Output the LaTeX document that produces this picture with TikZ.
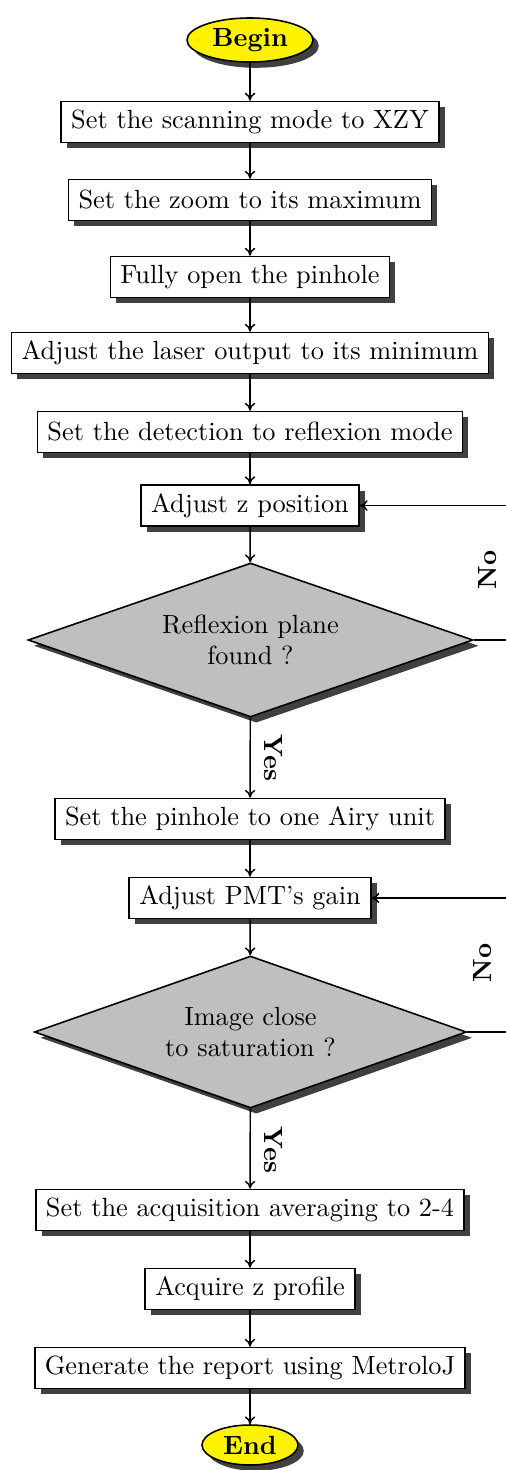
\documentclass[tikz,border=0pt]{standalone}
\usetikzlibrary{shapes.geometric,shadows,arrows.meta}
\begin{document}
\begin{tikzpicture}[x=0.38pt,y=-0.38pt,
  shad/.style={drop shadow={shadow xshift=2.2pt,shadow yshift=-2.2pt,fill=black!75,opacity=1}},
  stepbox/.style={rectangle,draw,line width=0.6pt,fill=white,shad,inner xsep=3.8pt,inner ysep=2pt,minimum height=15.6pt},
  term/.style={ellipse,draw,line width=0.6pt,fill=yellow,shad,font=\bfseries,inner sep=1pt},
  decide/.style={diamond,draw,line width=0.6pt,fill=black!25,shad,align=center,inner sep=0pt,aspect=2.89},
  conn/.style={line width=0.55pt,-{To[length=3pt,width=4pt]}},
  lab/.style={font=\bfseries}]
\useasboundingbox (0,0) rectangle (505,1470);
\node[term,minimum width=126*0.38pt,minimum height=44*0.38pt] (begin) at (250,40) {Begin};
\node[stepbox] (s1) at (250,122) {Set the scanning mode to XZY};
\node[stepbox] (s2) at (250,200) {Set the zoom to its maximum};
\node[stepbox] (s3) at (250,277) {Fully open the pinhole};
\node[stepbox] (s4) at (250,353) {Adjust the laser output to its minimum};
\node[stepbox] (s5) at (250,432) {Set the detection to reflexion mode};
\node[stepbox] (s6) at (250,505.5) {Adjust z position};
\node[decide,minimum width=445*0.38pt,minimum height=154*0.38pt] (d1) at (250.5,640) {Reflexion plane\\found ?};
\node[stepbox] (s7) at (250,819) {Set the pinhole to one Airy unit};
\node[stepbox] (s8) at (250,898) {Adjust PMT's gain};
\node[decide,minimum width=432*0.38pt,minimum height=152*0.38pt] (d2) at (250.5,1032) {Image close\\to saturation ?};
\node[stepbox] (s9) at (250,1210) {Set the acquisition averaging to 2-4};
\node[stepbox] (s10) at (250,1289) {Acquire z profile};
\node[stepbox] (s11) at (250,1368) {Generate the report using MetroloJ};
\node[term,minimum width=96*0.38pt,minimum height=40*0.38pt] (end) at (250,1445) {End};
\coordinate (c1a) at (530,640);
\coordinate (c1b) at (530,505.5);
\coordinate (c2a) at (530,1032);
\coordinate (c2b) at (530,898);
\draw[conn] (begin) -- (s1);
\draw[conn] (s1) -- (s2);
\draw[conn] (s2) -- (s3);
\draw[conn] (s3) -- (s4);
\draw[conn] (s4) -- (s5);
\draw[conn] (s5) -- (s6);
\draw[conn] (s6) -- (d1);
\draw[conn] (d1) -- (s7);
\draw[conn] (s7) -- (s8);
\draw[conn] (s8) -- (d2);
\draw[conn] (d2) -- (s9);
\draw[conn] (s9) -- (s10);
\draw[conn] (s10) -- (s11);
\draw[conn] (s11) -- (end);
\draw[conn] (d1.east) -- (c1a) -- (c1b) -- (s6.east);
\draw[conn] (d2.east) -- (c2a) -- (c2b) -- (s8.east);
\node[lab,rotate=-90] (yes1) at (273,758) {Yes};
\node[lab,rotate=-90] (yes2) at (273,1150) {Yes};
\node[lab,rotate=90] (no1) at (488,570) {No};
\node[lab,rotate=90] (no2) at (483,963) {No};
\end{tikzpicture}
\end{document}
